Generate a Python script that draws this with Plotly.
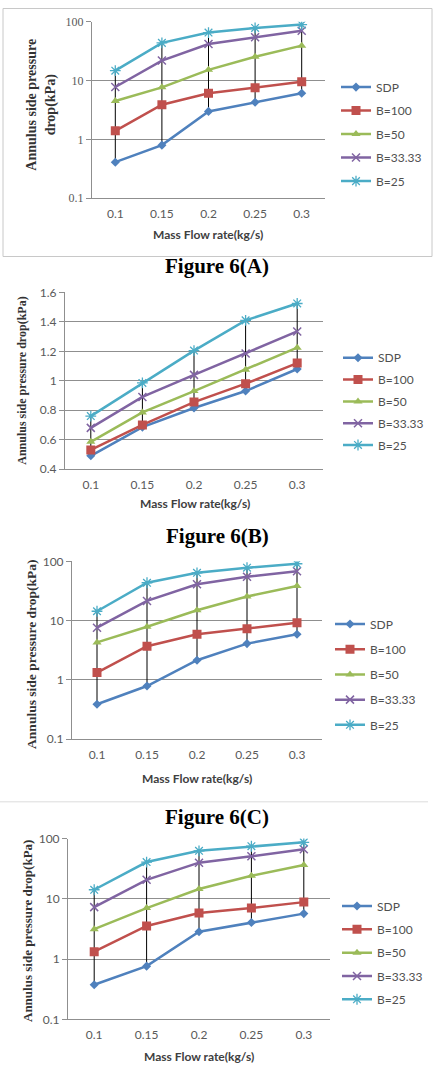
import plotly.graph_objects as go

W, H = 443, 1080

# ---------------- data ----------------
categories = ["0.1", "0.15", "0.2", "0.25", "0.3"]
series_names = ["SDP", "B=100", "B=50", "B=33.33", "B=25"]

# Figure 6(A)  (log axis)
a_sdp = [0.41, 0.80, 3.0, 4.3, 6.1]
a_b100 = [1.4, 3.9, 6.1, 7.6, 9.6]
a_b50 = [4.5, 7.7, 15.3, 25.5, 39.5]
a_b33 = [7.8, 22.0, 42.0, 55.0, 71.0]
a_b25 = [14.8, 44.0, 66.0, 79.0, 90.0]

# Figure 6(B)  (linear axis)
b_sdp = [0.49, 0.685, 0.815, 0.93, 1.08]
b_b100 = [0.53, 0.70, 0.855, 0.98, 1.12]
b_b50 = [0.585, 0.785, 0.93, 1.075, 1.225]
b_b33 = [0.68, 0.89, 1.04, 1.185, 1.335]
b_b25 = [0.76, 0.985, 1.205, 1.41, 1.525]

# Figure 6(C)  (log axis)
c_sdp = [0.39, 0.79, 2.15, 4.1, 5.9]
c_b100 = [1.33, 3.7, 5.9, 7.3, 9.2]
c_b50 = [4.3, 7.9, 15.0, 25.5, 38.5]
c_b33 = [7.6, 21.5, 41.0, 55.0, 68.0]
c_b25 = [14.4, 43.5, 64.0, 78.0, 91.0]

# Figure 6(D)  (log axis)
d_sdp = [0.375, 0.765, 2.85, 4.05, 5.7]
d_b100 = [1.33, 3.55, 5.85, 7.05, 8.85]
d_b50 = [3.15, 7.05, 14.6, 24.2, 36.5]
d_b33 = [7.3, 20.8, 40.0, 51.0, 67.0]
d_b25 = [14.2, 41.0, 63.0, 75.0, 87.0]

log_ticks = [0.1, 1, 10, 100]
log_ticktext = ["0.1", "1", "10", "100"]
lin_ticks = [0.4, 0.6, 0.8, 1.0, 1.2, 1.4, 1.6]
lin_ticktext = ["0.4", "0.6", "0.8", "1", "1.2", "1.4", "1.6"]

captions = ["Figure 6(A)", "Figure 6(B)", "Figure 6(C)"]
y_title = "Annulus side pressure drop(kPa)"
x_title = "Mass Flow rate(kg/s)"

# ---------------- styles ----------------
colors = ["#4F81BD", "#C0504D", "#9BBB59", "#8064A2", "#4BACC6"]
markers = [
    dict(symbol="diamond", size=7),
    dict(symbol="square", size=9),
    dict(symbol="triangle-up", size=8),
    dict(symbol="x-thin-open", size=8, line=dict(width=1.5)),
    dict(symbol="asterisk-open", size=9, line=dict(width=1.3)),
]
GRID = "#8f8f8f"
TICKC = "#5a5a5a"


def px(x):
    return x / W


def py(y):
    return 1 - y / H


panels = [
    dict(data=[a_sdp, a_b100, a_b50, a_b33, a_b25], log=True, serif_ticks=True,
         x0=92, x1=325, ytop=14, ybot=193,
         ytitle=dict(text="Annulus side pressure<br>drop(kPa)", x=41, y=98, size=14),
         xtitle=dict(x=208, y=230),
         legend=dict(x=336, y=65.5, gap=4.5)),
    dict(data=[b_sdp, b_b100, b_b50, b_b33, b_b25], log=False, serif_ticks=False,
         x0=65, x1=323, ytop=288.3, ybot=467.7,
         ytitle=dict(text=y_title, x=22, y=378, size=12),
         xtitle=dict(x=195, y=502),
         legend=dict(x=338, y=340, gap=2.8)),
    dict(data=[c_sdp, c_b100, c_b50, c_b33, c_b25], log=True, serif_ticks=False,
         x0=72, x1=322, ytop=561, ybot=741.7,
         ytitle=dict(text=y_title, x=32, y=656, size=13.5),
         xtitle=dict(x=197, y=781),
         legend=dict(x=330, y=610, gap=6.2)),
    dict(data=[d_sdp, d_b100, d_b50, d_b33, d_b25], log=True, serif_ticks=False,
         x0=68, x1=330, ytop=842.3, ybot=1025.7,
         ytitle=dict(text=y_title, x=27, y=936, size=13),
         xtitle=dict(x=199, y=1063),
         legend=dict(x=337, y=896, gap=4.3)),
]

fig = go.Figure()
annotations = []
layout = {}

for i, p in enumerate(panels):
    n = "" if i == 0 else str(i + 1)
    xa, ya = "x" + n, "y" + n
    leg = "legend" + n

    # high-low lines (thin black verticals between lowest and highest series)
    hx, hy = [], []
    for k, c in enumerate(categories):
        vals = [s[k] for s in p["data"]]
        hx += [c, c, None]
        hy += [min(vals), max(vals), None]
    fig.add_trace(go.Scatter(x=hx, y=hy, mode="lines", xaxis=xa, yaxis=ya,
                             line=dict(color="#000000", width=1),
                             showlegend=False, hoverinfo="skip"))

    for j, (name, vals) in enumerate(zip(series_names, p["data"])):
        mk = dict(markers[j])
        mk["color"] = colors[j]
        if "line" in mk:
            mk["line"] = dict(mk["line"], color=colors[j])
        fig.add_trace(go.Scatter(
            x=categories, y=vals, name=name, mode="lines+markers",
            xaxis=xa, yaxis=ya, legend=leg, legendgroup=f"{i}-{j}",
            line=dict(color=colors[j], width=2.5), marker=mk))

    layout["xaxis" + n] = dict(
        domain=[px(p["x0"]), px(p["x1"])], anchor=ya, type="category",
        categoryorder="array", categoryarray=categories, range=[-0.5, 4.5],
        showgrid=False, showline=True, linecolor=GRID, linewidth=1,
        ticks="", ticklabelstandoff=4,
        tickfont=dict(family="Lato", size=12, color=TICKC), fixedrange=True)
    yfont = dict(family="Liberation Serif" if p["serif_ticks"] else "Lato",
                 size=12, color=TICKC)
    if p["log"]:
        yax = dict(type="log", range=[-1.002, 2.002], tickvals=log_ticks,
                   ticktext=log_ticktext, tickfont=yfont)
    else:
        yax = dict(type="linear", range=[0.399, 1.601], tickvals=lin_ticks,
                   ticktext=lin_ticktext, tickfont=yfont)
    yax.update(domain=[py(p["ybot"]), py(p["ytop"])], anchor=xa,
               showgrid=True, gridcolor=GRID, gridwidth=1,
               showline=True, linecolor=GRID, linewidth=1,
               ticks="outside", ticklen=5, tickcolor=GRID,
               zeroline=False, fixedrange=True)
    layout["yaxis" + n] = yax

    lg = p["legend"]
    layout[leg] = dict(x=px(lg["x"]), y=py(lg["y"]), xanchor="left", yanchor="top",
                       xref="paper", yref="paper",
                       bgcolor="rgba(0,0,0,0)", borderwidth=0,
                       tracegroupgap=lg["gap"], itemwidth=30,
                       font=dict(family="Lato", size=12, color="#505050"))

    t = p["ytitle"]
    annotations.append(dict(text="<b>" + t["text"] + "</b>", x=px(t["x"]), y=py(t["y"]),
                            xref="paper", yref="paper", showarrow=False,
                            textangle=-90, xanchor="center", yanchor="middle",
                            font=dict(family="Liberation Serif", size=t["size"],
                                      color="#333333")))
    t = p["xtitle"]
    annotations.append(dict(text="<b>" + x_title + "</b>", x=px(t["x"]), y=py(t["y"]),
                            xref="paper", yref="paper", showarrow=False,
                            xanchor="center", yanchor="middle",
                            font=dict(family="Lato", size=12, color="#404040")))

for cap, cy in zip(captions, [262, 535, 820]):
    annotations.append(dict(text="<b>" + cap + "</b>", x=px(217), y=py(cy),
                            xref="paper", yref="paper", showarrow=False,
                            xanchor="center", yanchor="middle",
                            font=dict(family="Liberation Serif", size=21, color="#000000")))

shapes = [
    dict(type="rect", xref="paper", yref="paper", x0=px(3), x1=px(432),
         y0=py(252), y1=py(0.5), line=dict(color="#c8c8c8", width=1)),
    dict(type="line", xref="paper", yref="paper", x0=px(0), x1=px(428),
         y0=py(805), y1=py(805), line=dict(color="#dddddd", width=1)),
]

fig.update_layout(
    width=W, height=H, margin=dict(l=0, r=0, t=0, b=0),
    paper_bgcolor="white", plot_bgcolor="white",
    annotations=annotations, shapes=shapes, **layout)

fig.write_html("out.html", config={"displayModeBar": False})
